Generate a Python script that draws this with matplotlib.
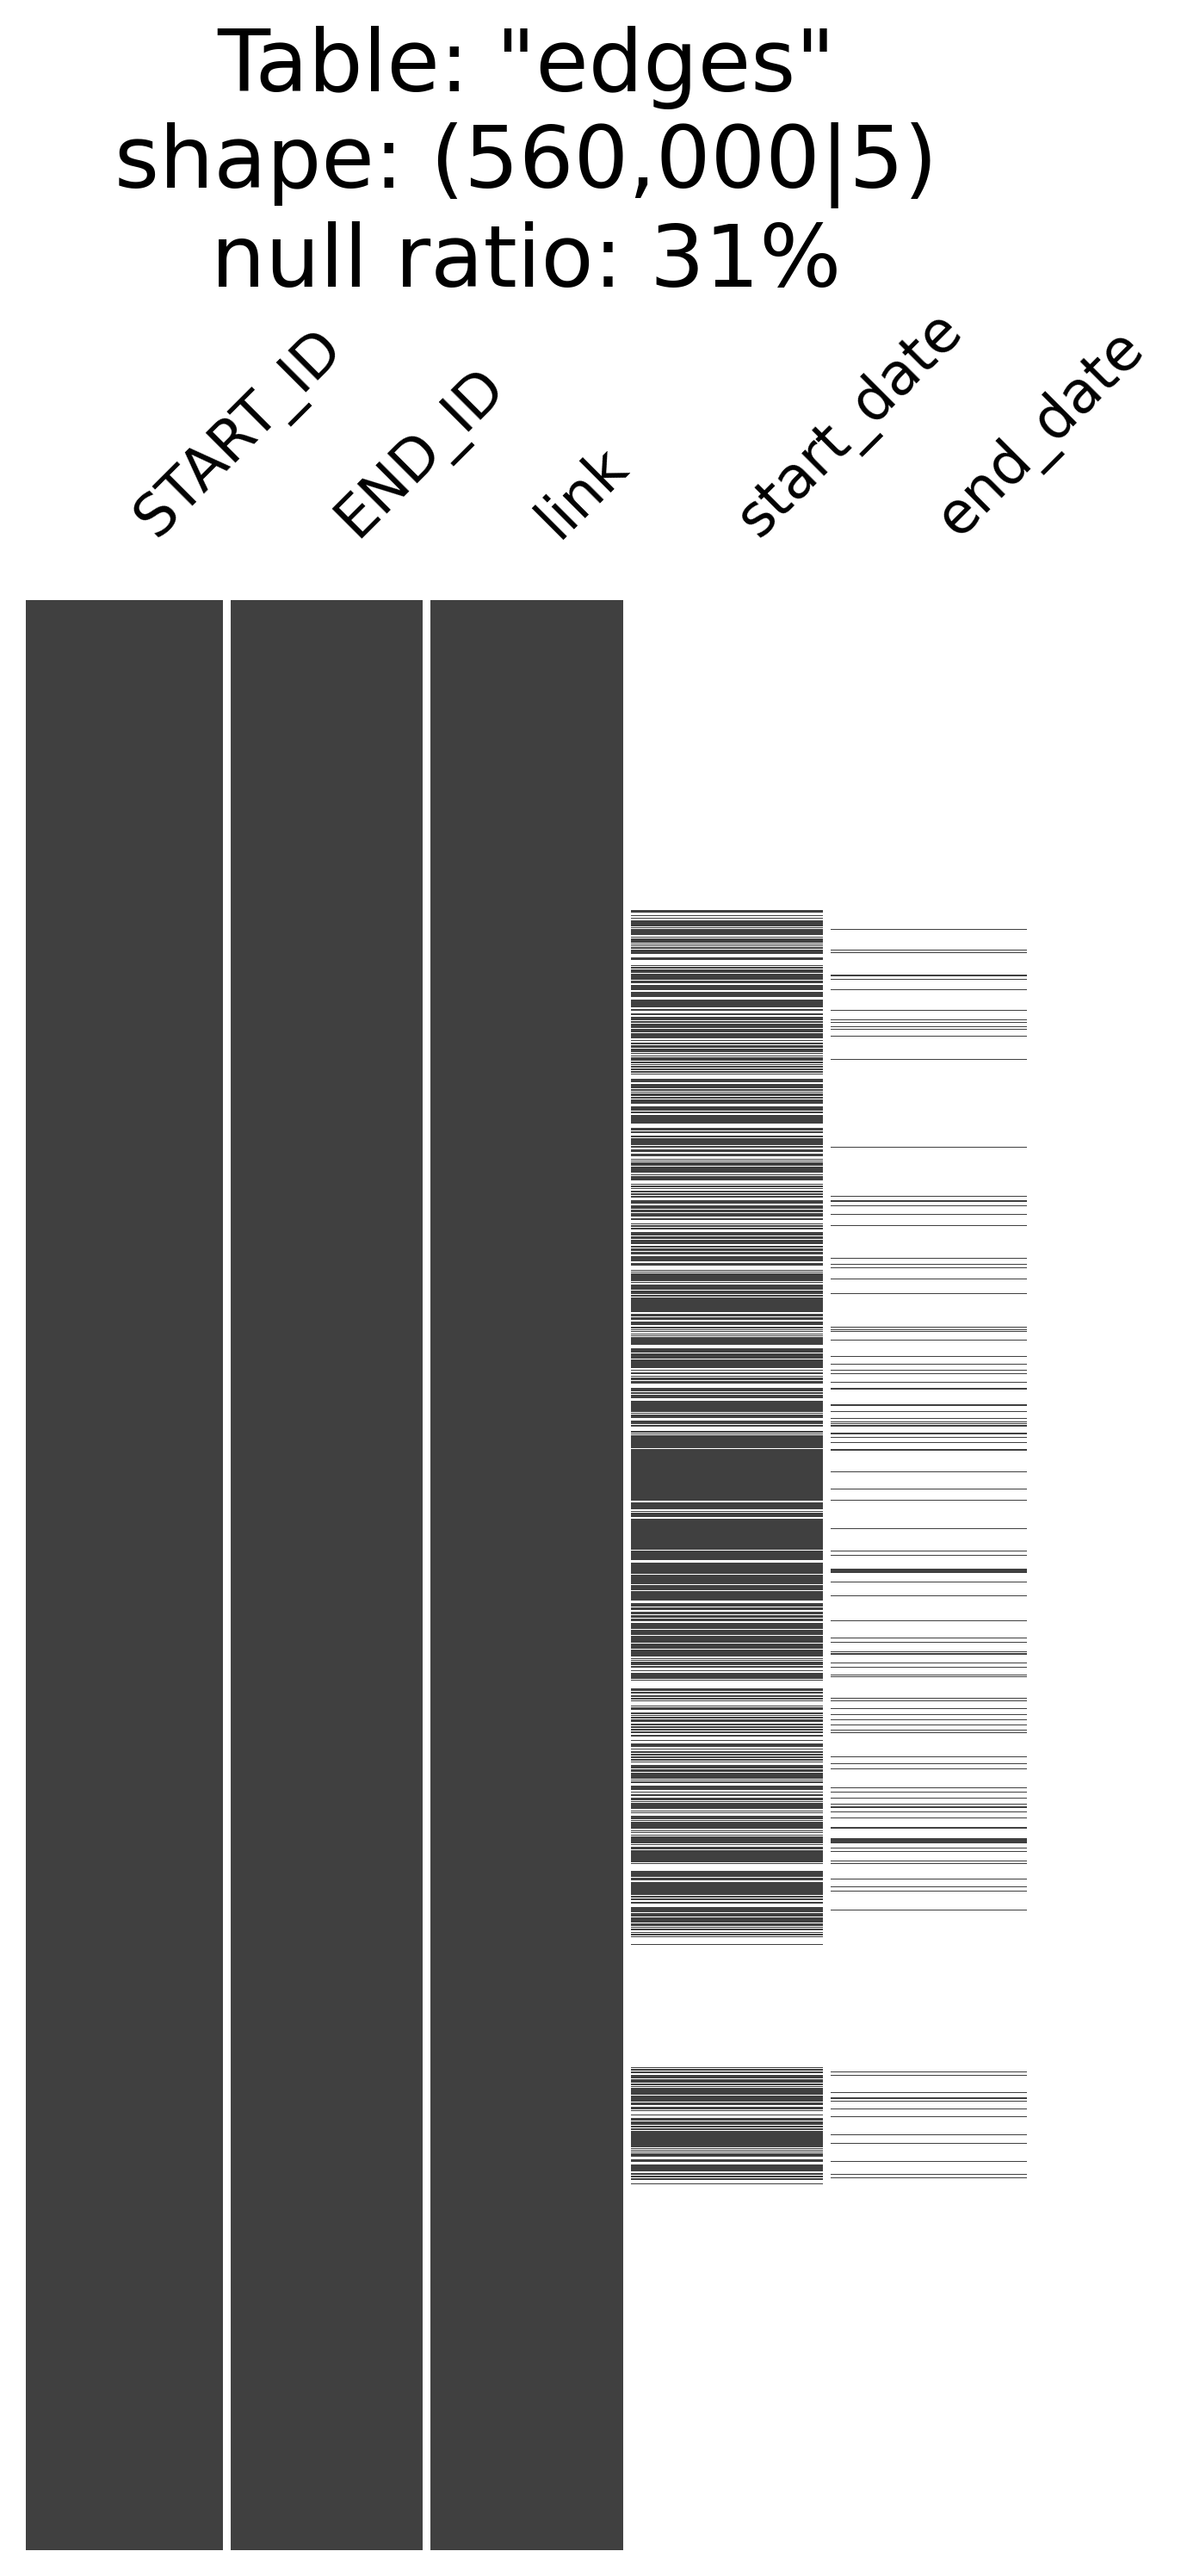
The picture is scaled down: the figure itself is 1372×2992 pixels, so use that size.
import matplotlib
matplotlib.use("Agg")
import matplotlib.pyplot as plt
import numpy as np

# ---------------- data ----------------
table_name = "edges"
n_rows = 560000
columns = ["START_ID", "END_ID", "link", "start_date", "end_date"]
null_ratio_pct = 31

# present (non-null) row ranges, in thousands of rows
complete_ranges = [(0.0, 560.0)]

start_date_upper = [
    (88.9, 89.7), (90.4, 90.8), (91.15, 91.55), (91.95, 93.6), (93.95, 94.2), (94.45, 96.1),
    (96.75, 97.0), (97.15, 98.4), (98.65, 98.9), (99.15, 99.4), (99.6, 100.05), (100.3, 101.7),
    (102.5, 103.35), (104.75, 105.05), (105.4, 105.8), (106.05, 107.05), (107.3, 108.95),
    (109.25, 109.95), (110.5, 112.0), (112.5, 113.9), (114.7, 116.95), (117.45, 117.85),
    (118.6, 119.1), (119.65, 120.05), (120.25, 120.75), (120.95, 121.3), (121.65, 122.8),
    (123.1, 124.1), (124.35, 125.85), (126.35, 126.65), (127.0, 127.5), (127.85, 128.5),
    (128.8, 129.8), (130.15, 130.4), (130.7, 130.95), (131.2, 132.25), (132.6, 132.95),
    (133.2, 133.6), (133.85, 134.25), (134.5, 134.9), (135.3, 135.65), (136.05, 136.3),
    (137.4, 138.45), (138.85, 140.2), (140.5, 140.9), (141.25, 141.5), (141.65, 142.3),
    (142.65, 143.15), (143.4, 144.55), (145.35, 146.6), (146.95, 147.25), (147.85, 150.25),
    (151.55, 152.2), (152.55, 153.05), (153.8, 154.2), (154.55, 156.5), (156.85, 157.35),
    (157.65, 158.5), (159.0, 159.8), (160.55, 160.8), (161.05, 161.3), (161.45, 162.35),
    (162.75, 164.5), (164.85, 165.1), (165.4, 166.65), (167.65, 167.95), (168.2, 168.55),
    (168.8, 169.1), (169.7, 170.1), (170.25, 170.95), (171.2, 171.5), (172.35, 173.3),
    (173.75, 174.9), (175.15, 175.8), (176.05, 176.95), (177.5, 177.95), (179.0, 179.35),
    (179.6, 179.9), (180.15, 180.75), (181.55, 182.4), (182.7, 183.45), (183.7, 184.95),
    (185.45, 185.85), (186.2, 186.85), (187.1, 187.8), (188.4, 189.9), (190.3, 191.1),
    (192.25, 192.5), (192.75, 193.2), (193.45, 194.5), (194.65, 195.65), (195.9, 196.15),
    (196.55, 197.95), (198.35, 199.3), (199.6, 199.95), (200.25, 204.4), (205.05, 205.6),
    (205.95, 206.7), (207.1, 208.25), (208.75, 209.1), (209.35, 209.65), (209.9, 210.15),
    (210.55, 210.9), (211.15, 211.4), (211.7, 213.8), (214.85, 216.1), (216.4, 217.75),
    (218.05, 220.45), (221.05, 221.35), (221.7, 222.2), (222.7, 222.95), (223.25, 223.9),
    (224.15, 225.0), (226.25, 227.15), (227.55, 227.85), (228.2, 229.2), (229.95, 233.15),
    (233.4, 233.65), (233.9, 234.8), (235.6, 236.7), (236.95, 237.35), (238.65, 239.0),
    (239.25, 239.6), (239.8, 243.55), (243.8, 258.7), (259.2, 261.1), (261.6, 261.85),
    (262.05, 263.4), (263.8, 272.7), (272.95, 275.65), (276.4, 279.65), (279.95, 282.5),
    (282.85, 284.35), (284.65, 287.3), (288.05, 289.0), (289.25, 290.0), (290.4, 291.15),
    (291.4, 292.15), (292.5, 293.25), (293.7, 295.45), (295.7, 297.2), (297.45, 299.3),
    (299.55, 301.15), (301.4, 303.35), (303.75, 304.1), (304.3, 304.7), (304.85, 305.9),
    (306.15, 306.6), (307.3, 307.65), (308.05, 309.8), (310.05, 310.3), (312.45, 313.25),
    (313.6, 314.0), (314.4, 315.05), (315.3, 315.7), (315.95, 316.2), (317.45, 317.7),
    (317.95, 318.7), (319.5, 319.95), (320.1, 320.5), (320.75, 321.15), (321.4, 322.15),
    (322.55, 323.15), (323.4, 323.8), (324.05, 324.55), (324.8, 325.3), (325.8, 326.25),
    (327.35, 327.6), (328.35, 329.25), (329.75, 330.05), (330.45, 331.05), (331.4, 331.8),
    (332.05, 332.45), (332.7, 333.2), (333.45, 333.75), (334.45, 335.4), (335.65, 336.5),
    (336.8, 338.4), (338.8, 339.05), (339.3, 339.6), (340.55, 341.6), (342.2, 342.45),
    (342.85, 343.4), (343.9, 344.65), (344.9, 345.15), (345.4, 347.1), (347.55, 347.85),
    (348.1, 348.45), (349.0, 350.1), (350.35, 350.6), (350.85, 352.8), (353.3, 353.55),
    (353.9, 354.15), (354.45, 354.8), (354.95, 357.0), (357.25, 357.5), (358.0, 358.65),
    (359.05, 362.35), (362.7, 362.95), (364.85, 366.55), (366.9, 367.75), (368.15, 371.75),
    (372.1, 372.5), (372.85, 373.35), (373.75, 374.3), (375.3, 376.7), (377.05, 377.95),
    (378.25, 379.75), (380.0, 380.75), (381.0, 381.3), (381.55, 381.9), (382.5, 382.75),
    (382.95, 383.4), (383.65, 383.95), (385.85, 386.15),
]
start_date_lower = [
    (421.3, 421.65), (421.9, 422.2), (422.45, 422.95), (423.55, 424.45), (424.75, 425.75),
    (426.0, 426.4), (426.75, 427.05), (427.3, 429.15), (429.55, 431.1), (431.5, 432.2),
    (432.6, 433.4), (433.75, 434.0), (434.9, 435.15), (435.9, 436.65), (436.9, 437.85),
    (438.2, 438.6), (438.85, 439.35), (439.6, 444.2), (444.6, 444.85), (445.1, 445.35),
    (445.6, 445.85), (446.1, 446.95), (447.75, 448.5), (449.15, 451.15), (451.7, 452.1),
    (452.45, 452.85), (453.1, 453.35), (453.5, 453.75), (454.7, 454.95),
]
end_date_upper = [
    (94.45, 94.65), (100.35, 100.6), (101.1, 101.35), (107.55, 108.05), (108.75, 109.0),
    (111.75, 112.0), (117.65, 117.9), (120.4, 120.65), (121.15, 121.4), (122.45, 122.7),
    (123.1, 123.35), (125.1, 125.35), (131.75, 132.0), (157.0, 157.25), (171.1, 171.35),
    (172.35, 172.8), (173.75, 174.0), (176.2, 176.45), (179.4, 179.65), (188.9, 189.15),
    (190.55, 190.8), (191.6, 191.85), (194.75, 195.0), (198.95, 199.2), (208.6, 208.85),
    (209.35, 209.6), (209.9, 210.15), (212.4, 212.65), (217.1, 217.35), (219.3, 219.55),
    (221.05, 221.3), (221.95, 222.2), (224.5, 224.75), (226.25, 226.7), (230.9, 231.4),
    (232.9, 233.15), (234.9, 235.15), (235.85, 236.1), (236.35, 236.6), (236.95, 237.35),
    (239.1, 239.6), (240.3, 240.55), (241.8, 242.05), (243.8, 244.3), (250.2, 250.45),
    (255.15, 255.4), (258.35, 258.6), (266.5, 266.75), (272.95, 273.2), (274.2, 274.45),
    (278.05, 279.3), (281.75, 282.0), (285.8, 286.05), (292.9, 293.15), (297.85, 298.1),
    (299.1, 299.35), (301.9, 302.15), (302.45, 302.8), (305.1, 305.35), (306.25, 306.5),
    (308.55, 308.8), (309.05, 309.3), (315.15, 315.4), (315.9, 316.15), (318.1, 318.35),
    (319.95, 320.2), (321.35, 321.6), (322.8, 323.05), (324.3, 324.55), (325.05, 325.3),
    (331.95, 332.2), (334.0, 334.25), (335.4, 335.65), (340.85, 341.1), (342.2, 342.45),
    (343.9, 344.15), (345.65, 345.9), (346.3, 346.85), (347.8, 348.05), (349.5, 349.75),
    (352.25, 352.8), (355.55, 357.0), (358.25, 358.5), (359.15, 359.4), (361.85, 362.1),
    (362.6, 362.85), (367.05, 367.3), (369.3, 369.55), (370.5, 370.75), (375.95, 376.2),
]
end_date_lower = [
    (422.55, 422.8), (423.45, 423.7), (428.4, 428.65), (429.95, 430.45), (430.85, 431.1),
    (433.1, 433.35), (435.3, 435.55), (440.5, 440.75), (443.0, 443.25), (448.15, 448.4),
    (451.9, 452.15), (452.85, 453.1),
]

present = {
    "START_ID": complete_ranges,
    "END_ID": complete_ranges,
    "link": complete_ranges,
    "start_date": start_date_upper + start_date_lower,
    "end_date": end_date_upper + end_date_lower,
}

# ---------------- figure ----------------
W, H, DPI = 1372, 2992, 100
fig = plt.figure(figsize=(W / DPI, H / DPI), dpi=DPI)
fig.patch.set_facecolor("white")

ax_left, ax_right, ax_top, ax_bottom = 30, 1193, 697, 2962
ax = fig.add_axes([ax_left / W, 1 - ax_bottom / H,
                   (ax_right - ax_left) / W, (ax_bottom - ax_top) / H])

dark = "#404040"
total_k = n_rows / 1000.0
for i, col in enumerate(columns):
    rng = np.array(present[col], dtype=float)
    ax.bar(np.full(len(rng), i), rng[:, 1] - rng[:, 0], bottom=rng[:, 0],
           width=1.0, color=dark, linewidth=0, antialiased=False, zorder=1)

for i in range(1, len(columns)):
    ax.axvline(i - 0.5, color="white", linewidth=6.5, zorder=3)

ax.set_xlim(-0.5, len(columns) - 0.5)
ax.set_ylim(total_k, 0)
for s in ax.spines.values():
    s.set_visible(False)
ax.set_yticks([])
ax.xaxis.tick_top()
ax.set_xticks(range(len(columns)))
ax.set_xticklabels(columns, rotation=45, ha="left", fontsize=48)
ax.tick_params(axis="x", length=0, pad=43)
ax.set_facecolor("white")

title = (f'Table: "{table_name}"\n'
         f'shape: ({n_rows:,}|{len(columns)})\n'
         f'null ratio: {null_ratio_pct}%')
fig.text((ax_left + ax_right) / 2 / W, 1 - 30 / H, title, ha="center", va="top",
         fontsize=72, multialignment="center", linespacing=1.2)

fig.savefig("out.png", dpi=DPI, facecolor="white")
